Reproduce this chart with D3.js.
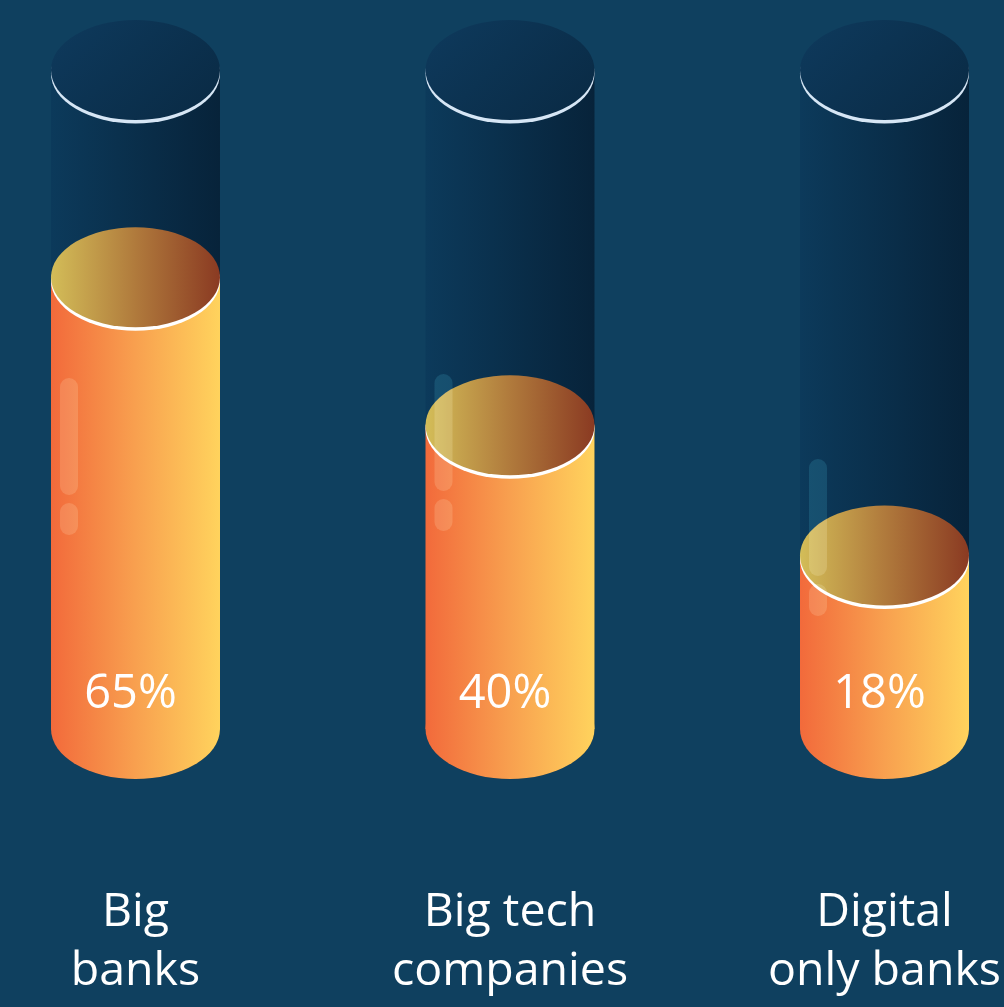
<!DOCTYPE html>
<html>
<head>
<meta charset="utf-8">
<script src="https://cdn.jsdelivr.net/npm/d3@7"></script>
<style>
  html, body { margin: 0; padding: 0; background: #0f405f; }
  svg { display: block; }
  text { font-family: "Open Sans", "Noto Sans", sans-serif; fill: #ffffff; }
</style>
</head>
<body>
<script>
// Share of respondents per provider type
const categories = ["Big banks", "Big tech companies", "Digital only banks"];
const labelLines = [["Big", "banks"], ["Big tech", "companies"], ["Digital", "only banks"]];
const values = [65, 40, 18];
const valueLabels = ["65%", "40%", "18%"];

const W = 1004, H = 1007;
const rx = 84.5, ry = 50;
const tubeTop = 70, tubeBottom = 729;
// vertical offset of the decorative glints on each tube
const glintTop = [378, 374, 459];

const svg = d3.select("body").append("svg")
  .attr("width", W).attr("height", H);

svg.append("rect").attr("width", W).attr("height", H).attr("fill", "#0f405f");

const defs = svg.append("defs");
function linGrad(id, stops, x2 = 1, y2 = 0) {
  const g = defs.append("linearGradient").attr("id", id)
    .attr("x1", 0).attr("y1", 0).attr("x2", x2).attr("y2", y2);
  stops.forEach(([o, c]) => g.append("stop").attr("offset", o).attr("stop-color", c));
}
linGrad("tubeBody", [[0, "#0c3a5b"], [1, "#07233a"]]);
linGrad("tubeCap", [[0, "#0e3a5d"], [1, "#0a2c47"]], 1, 0.6);
linGrad("liquidSide", [[0, "#f26a3b"], [0.5, "#f8a04f"], [1, "#ffd35d"]]);
linGrad("liquidTop", [[0, "#d3bd58"], [0.5, "#b07a3c"], [1, "#8a3a22"]]);

const x = d3.scalePoint().domain(categories).range([135.5, 884.5]);
const y = d3.scaleLinear().domain([0, 100]).range([662, 70]);

const tubes = svg.selectAll("g.tube")
  .data(categories.map((c, i) => ({ c, i, v: values[i] })))
  .join("g").attr("class", "tube")
  .attr("transform", d => `translate(${x(d.c)},0)`);

// empty glass body
tubes.append("rect")
  .attr("x", -rx).attr("y", tubeTop).attr("width", 2 * rx)
  .attr("height", tubeBottom - tubeTop)
  .attr("fill", "url(#tubeBody)");
tubes.append("ellipse")
  .attr("cx", 0).attr("cy", tubeBottom).attr("rx", rx).attr("ry", ry)
  .attr("fill", "url(#tubeBody)");

// top cap with bright rim
tubes.append("ellipse")
  .attr("cx", 0).attr("cy", tubeTop + 3.5).attr("rx", rx).attr("ry", ry)
  .attr("fill", "#d6e6f5");
tubes.append("ellipse")
  .attr("cx", 0).attr("cy", tubeTop).attr("rx", rx).attr("ry", ry)
  .attr("fill", "url(#tubeCap)");

// liquid column
tubes.append("rect")
  .attr("x", -rx).attr("y", d => y(d.v)).attr("width", 2 * rx)
  .attr("height", d => tubeBottom - y(d.v))
  .attr("fill", "url(#liquidSide)");
tubes.append("ellipse")
  .attr("cx", 0).attr("cy", tubeBottom).attr("rx", rx).attr("ry", ry)
  .attr("fill", "url(#liquidSide)");
tubes.append("ellipse")
  .attr("cx", 0).attr("cy", d => y(d.v) + 3.5).attr("rx", rx).attr("ry", ry)
  .attr("fill", "#ffffff");
tubes.append("ellipse")
  .attr("cx", 0).attr("cy", d => y(d.v)).attr("rx", rx).attr("ry", ry)
  .attr("fill", "url(#liquidTop)");

// glints
const glint = tubes.append("g")
  .style("mix-blend-mode", "soft-light")
  .attr("opacity", 0.38);
glint.append("rect")
  .attr("x", -rx + 9).attr("y", d => glintTop[d.i]).attr("width", 18)
  .attr("height", 117).attr("rx", 9)
  .attr("fill", "#ffffff");
glint.append("rect")
  .attr("x", -rx + 9).attr("y", d => glintTop[d.i] + 125).attr("width", 18)
  .attr("height", 32).attr("rx", 9)
  .attr("fill", "#ffffff");

// value labels
tubes.append("text")
  .attr("x", -5).attr("y", 708)
  .attr("text-anchor", "middle")
  .attr("font-size", 47)
  .text(d => valueLabels[d.i]);

// category labels
const cat = svg.selectAll("text.cat")
  .data(categories)
  .join("text").attr("class", "cat")
  .attr("text-anchor", "middle")
  .attr("font-size", 46.5)
  .attr("transform", d => `translate(${x(d)},0)`);
cat.selectAll("tspan")
  .data((d, i) => labelLines[i])
  .join("tspan")
  .attr("x", 0)
  .attr("y", (d, j) => 926 + j * 59)
  .text(d => d);
</script>
</body>
</html>
